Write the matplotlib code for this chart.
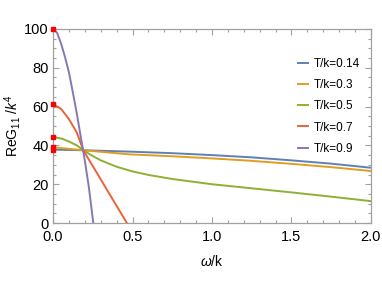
import matplotlib
matplotlib.use("Agg")
import matplotlib.pyplot as plt
from matplotlib.ticker import MultipleLocator

plt.rcParams['font.family'] = ['Liberation Sans', 'DejaVu Sans']
plt.rcParams['mathtext.fontset'] = 'custom'
plt.rcParams['mathtext.rm'] = 'Liberation Sans'
plt.rcParams['mathtext.it'] = 'Liberation Sans:italic'

labels = ["T/k=0.14", "T/k=0.3", "T/k=0.5", "T/k=0.7", "T/k=0.9"]
colors = ["#5E81B5", "#E19C24", "#8FB032", "#EB6235", "#8778B3"]

w_014 = [0, 0.19, 0.48, 0.75, 1.0, 1.24, 1.5, 1.75, 2.0]
g_014 = [37.8, 37.5, 36.8, 36.0, 35.0, 33.9, 32.3, 30.6, 28.5]

w_03 = [0, 0.19, 0.48, 0.75, 1.0, 1.24, 1.5, 1.75, 2.0]
g_03 = [39.0, 37.5, 35.4, 34.4, 33.3, 32.1, 30.5, 28.8, 26.8]

w_05 = [0, 0.05, 0.1, 0.15, 0.19, 0.25, 0.3, 0.4, 0.5, 0.6, 0.75, 1.0, 1.25, 1.5, 1.75, 2.0]
g_05 = [44.2, 43.6, 42.0, 40.0, 37.5, 34.5, 32.3, 29.0, 26.6, 24.8, 22.7, 20.0, 17.9, 15.8, 13.6, 11.3]

w_07 = [0, 0.05, 0.1, 0.15, 0.19, 0.25, 0.3, 0.35, 0.4, 0.45, 0.465]
g_07 = [61.3, 58.8, 53.5, 46.5, 37.5, 29.3, 22.5, 15.6, 8.8, 2.0, 0.0]

w_09 = [0, 0.025, 0.05, 0.075, 0.1, 0.125, 0.15, 0.175, 0.2, 0.225, 0.253]
g_09 = [100, 98, 92.5, 85.5, 77.5, 67, 56, 44, 32, 18.5, 0]

series = [(w_014, g_014), (w_03, g_03), (w_05, g_05), (w_07, g_07), (w_09, g_09)]

fig = plt.figure(figsize=(3.82, 2.86), dpi=100)
ax = fig.add_axes([0.139, 0.220, 0.832, 0.679])

for (w, g), c, lab in zip(series, colors, labels):
    ax.plot(w, g, color=c, lw=1.4, label=lab, clip_on=True)

for (w, g) in series:
    ax.plot([w[0]], [g[0]], 's', color='red', ms=3.0, clip_on=False, zorder=5)

ax.set_xlim(0, 2.0)
ax.set_ylim(0, 100)
ax.xaxis.set_major_locator(MultipleLocator(0.5))
ax.xaxis.set_minor_locator(MultipleLocator(0.1))
ax.yaxis.set_major_locator(MultipleLocator(20))
ax.yaxis.set_minor_locator(MultipleLocator(5))
ax.xaxis.set_major_formatter(matplotlib.ticker.FormatStrFormatter('%.1f'))

for s in ax.spines.values():
    s.set_color('#A0A0A0')
    s.set_linewidth(0.9)
ax.tick_params(which='both', direction='in', top=True, right=True, color='#A0A0A0',
               labelsize=10.5, labelcolor='black', width=0.8)
ax.tick_params(which='major', length=4)
ax.tick_params(axis='x', which='major', pad=5)
ax.tick_params(axis='y', which='major', pad=3)
ax.tick_params(which='minor', length=2.5)

ax.set_xlabel(r'$\mathit{\omega}$/k', fontsize=10, labelpad=7)
ax.set_ylabel(r'ReG$_{11}$ /$k^4$', fontsize=10, labelpad=1)

leg = ax.legend(loc='upper right', bbox_to_anchor=(1.0, 0.905), frameon=False, fontsize=8.5,
                handlelength=0.9, handletextpad=0.5, labelspacing=0.78)

fig.savefig("out.png", dpi=100)
